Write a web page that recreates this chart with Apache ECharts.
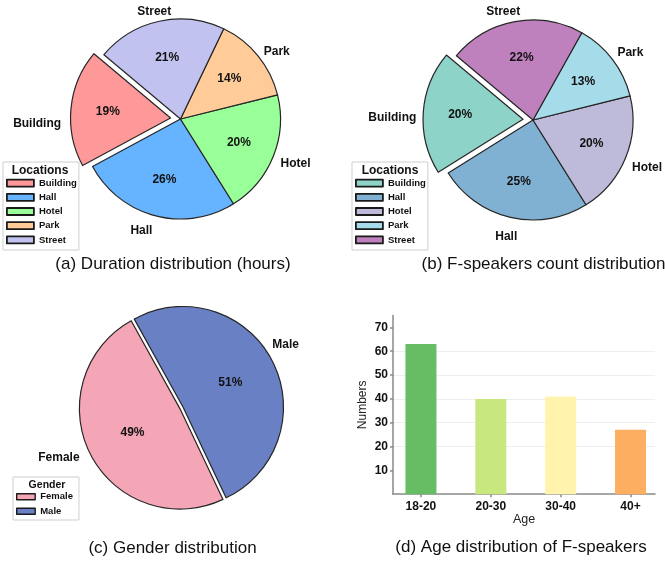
<!DOCTYPE html>
<html>
<head>
<meta charset="utf-8">
<script src="https://cdn.jsdelivr.net/npm/echarts@6/dist/echarts.min.js"></script>
<style>
  html, body { margin: 0; padding: 0; background: #fff; }
  #chart { width: 665px; height: 561px; }
</style>
</head>
<body>
<div id="chart"></div>
<script>
// ---- data ----
const locations = ['Building', 'Hall', 'Hotel', 'Park', 'Street'];
const durationShare = [19, 26, 20, 14, 21];   // % of recorded hours
const speakerShare = [20, 25, 20, 13, 22];    // % of F-speakers
const genders = ['Female', 'Male'];
const genderShare = [49, 51];
const ageGroups = ['18-20', '20-30', '30-40', '40+'];
const ageCounts = [63, 40, 41, 27];
const countTicks = [10, 20, 30, 40, 50, 60, 70];

// ---- palettes ----
const durationColors = ['#ff9999', '#66b3ff', '#99ff99', '#ffcc99', '#c2c2f0'];
const speakerColors = ['#8dd3c7', '#80b1d3', '#bebada', '#a6dbe9', '#bf80be'];
const genderColors = ['#f4a6b6', '#6a80c4'];
const ageColors = ['#66bd63', '#c8e77f', '#fff3ad', '#fdae61'];

// small hand adjustments of the outside slice names (dx, dy in px)
const nudgeA = { Building: [0, 17], Street: [14, 0], Hall: [0, 5], Hotel: [-2, 3], Park: [-2, 2] };
const nudgeB = { Building: [3, 6], Street: [7, 0], Hall: [9, 10], Hotel: [-3, 6], Park: [-3, -1] };
const nudgeC = { Male: [-9, -12], Female: [-2, -1] };

const FONT = "'Liberation Sans', Arial, Helvetica, sans-serif";
const INK = '#111';
const CLEAR = 'rgba(0,0,0,0)';

// One pie = wedges + percentage labels + outside name labels
function pie(names, values, colors, o) {
  const items = (styled) => names.map((n, i) => ({
    name: n,
    value: values[i],
    selected: n === o.exploded,
    itemStyle: styled ? { color: colors[i] } : { color: CLEAR, borderWidth: 0 }
  }));
  const common = {
    type: 'pie',
    center: o.center,
    startAngle: o.startAngle,
    clockwise: false,
    selectedMode: 'multiple',
    selectedOffset: o.offset,
    avoidLabelOverlap: false,
    silent: true,
    animation: false,
    emphasis: { disabled: true }
  };
  return [
    Object.assign({}, common, {
      radius: [0, o.r],
      data: items(true),
      itemStyle: { borderColor: '#262626', borderWidth: 1.2 },
      label: { show: false },
      labelLine: { show: false }
    }),
    Object.assign({}, common, {
      radius: [o.r * o.pctInner, o.r],
      data: items(false),
      label: {
        show: true, position: 'inside', formatter: '{c}%',
        fontFamily: FONT, fontWeight: 'bold', fontSize: 12, color: INK
      },
      labelLine: { show: false }
    }),
    Object.assign({}, common, {
      radius: [0, o.r],
      data: items(false),
      label: {
        show: true, position: 'outside', formatter: '{b}',
        distanceToLabelLine: 0,
        fontFamily: FONT, fontWeight: 'bold', fontSize: 12, color: INK
      },
      labelLine: { show: false, length: o.r * 0.1, length2: 0 },
      labelLayout: (p) => {
        const d = o.nudge[names[p.dataIndex]] || [0, 0];
        return { dx: d[0], dy: d[1] };
      }
    })
  ];
}

function legend(names, colors, o) {
  return {
    orient: 'vertical',
    left: o.left, top: o.top,
    padding: o.padding,
    itemWidth: o.itemWidth, itemHeight: o.itemHeight, itemGap: 0,
    icon: 'rect',
    selectedMode: false,
    backgroundColor: '#fff',
    borderColor: '#cfcfcf', borderWidth: 1,
    itemStyle: { borderColor: '#1a1a1a', borderWidth: o.border },
    textStyle: {
      fontFamily: FONT, fontWeight: 'bold', fontSize: o.fontSize,
      color: INK, lineHeight: o.lineHeight
    },
    data: names.map((n, i) => ({ name: n, itemStyle: { color: colors[i] } }))
  };
}

function label(text, x, y, size, weight) {
  return {
    text: text, left: x, top: y, padding: 0,
    textAlign: 'center', textVerticalAlign: 'middle',
    textStyle: { fontFamily: FONT, fontSize: size, fontWeight: weight, color: INK }
  };
}

const axisGray = { color: '#8a8a8a', width: 1.5 };
const tickFont = { fontFamily: FONT, fontWeight: 'bold', fontSize: 12, color: INK };

const option = {
  backgroundColor: '#fff',
  animation: false,
  title: [
    label('(a) Duration distribution (hours)', 173, 264, 17, 'normal'),
    label('(b) F-speakers count distribution', 543.5, 264, 17, 'normal'),
    label('(c) Gender distribution', 172.5, 548, 17, 'normal'),
    label('(d) Age distribution of F-speakers', 521, 547, 17, 'normal'),
    label('Locations', 40, 171, 12, 'bold'),
    label('Locations', 390, 171, 12, 'bold'),
    label('Gender', 47, 485, 10.5, 'bold')
  ],
  legend: [
    legend(locations, durationColors, {
      left: 3, top: 162, padding: [14, 2, 3, 3], itemWidth: 27, itemHeight: 7,
      border: 1.8, fontSize: 9.5, lineHeight: 14.2
    }),
    legend(locations, speakerColors, {
      left: 352, top: 162, padding: [14, 2, 3, 3], itemWidth: 27, itemHeight: 7,
      border: 1.8, fontSize: 9.5, lineHeight: 14.2
    }),
    legend(genders, genderColors, {
      left: 13, top: 477, padding: [12.5, 6, 1.5, 3], itemWidth: 18.5, itemHeight: 6,
      border: 1.4, fontSize: 9.5, lineHeight: 14.5
    })
  ],
  grid: { left: 393, top: 315.5, width: 262, height: 178.7 },
  xAxis: {
    type: 'value', min: 0.6, max: 4.35,
    axisLine: { show: true, lineStyle: axisGray },
    axisTick: { show: true, length: 3, customValues: [1, 2, 3, 4], lineStyle: axisGray },
    axisLabel: Object.assign({ margin: 6, customValues: [1, 2, 3, 4],
      formatter: (v) => ageGroups[Math.round(v) - 1] }, tickFont),
    splitLine: { show: false },
    name: 'Age', nameLocation: 'middle', nameGap: 18.5,
    nameTextStyle: { fontFamily: FONT, fontSize: 12.5, color: '#222' }
  },
  yAxis: {
    type: 'value', min: 0, max: 75, interval: 10,
    axisLine: { show: true, lineStyle: axisGray },
    axisTick: { show: true, length: 3, customValues: countTicks, lineStyle: axisGray },
    axisLabel: Object.assign({ margin: 5, customValues: countTicks }, tickFont),
    splitLine: { show: true, showMinLine: false, showMaxLine: false,
      lineStyle: { color: '#eeeeee', width: 1 } },
    name: 'Numbers', nameLocation: 'middle', nameGap: 24,
    nameTextStyle: { fontFamily: FONT, fontSize: 12, color: '#222' }
  },
  series: [].concat(
    pie(locations, durationShare, durationColors, {
      center: [180.5, 119], r: 100, startAngle: 140, exploded: 'Building', offset: 10,
      pctInner: 0.2, nudge: nudgeA
    }),
    pie(locations, speakerShare, speakerColors, {
      center: [533, 120], r: 100, startAngle: 140, exploded: 'Building', offset: 10,
      pctInner: 0.2, nudge: nudgeB
    }),
    pie(genders, genderShare, genderColors, {
      center: [183, 407], r: 100.5, startAngle: 119, exploded: 'Female', offset: 3.5,
      pctInner: 0, nudge: nudgeC
    }),
    [{
      type: 'bar',
      barWidth: 31,
      silent: true,
      data: ageCounts.map((v, i) => ({ value: [i + 1, v], itemStyle: { color: ageColors[i] } }))
    }]
  )
};

const chart = echarts.init(document.getElementById('chart'), null, { renderer: 'canvas' });
chart.setOption(option);
</script>
</body>
</html>
